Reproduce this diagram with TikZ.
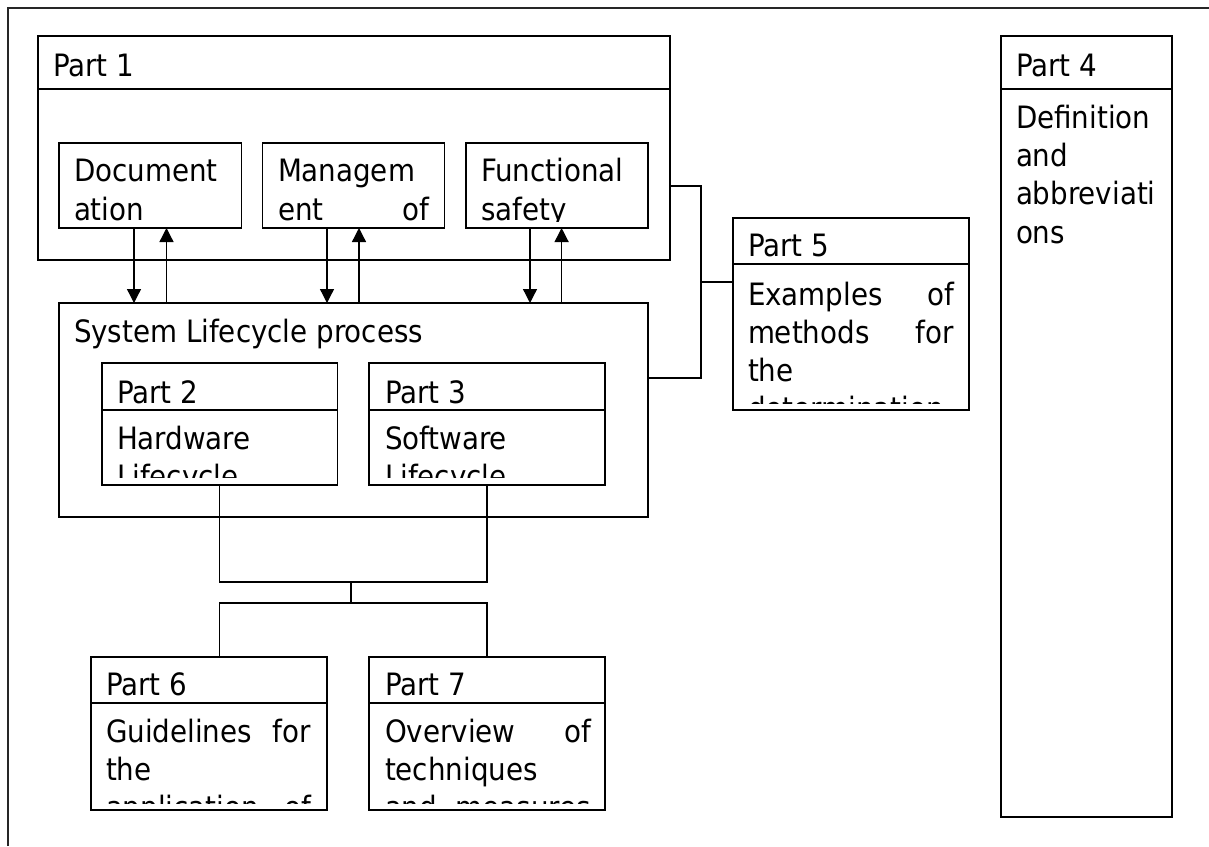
\documentclass[tikz,border=0pt]{standalone}
\usepackage{fontspec}
\setmainfont{DejaVu Sans Condensed}
\usetikzlibrary{arrows.meta}

\begin{document}
\begin{tikzpicture}[x=1pt,y=-1pt,
  frame/.style={draw=black, line width=1.9pt},
  panel/.style={frame, anchor=north west, inner sep=0pt, outer sep=0pt},
  link/.style={draw=black, line width=1.3pt},
  flow/.style={link, -{Triangle[width=14pt,length=14pt]}},
  txt/.style={inner sep=0pt, outer sep=0pt, anchor=base west,
              font=\fontsize{30.8}{38.5}\selectfont},
]
\useasboundingbox (0,0) rectangle (1209,846);

% page frame (top and left edges)
\coordinate (fr-bl) at (8,846);
\coordinate (fr-tl) at (8,8);
\coordinate (fr-tr) at (1209,8);
\draw[line width=1.6pt, draw=black!85] (fr-bl) -- (fr-tl) -- (fr-tr);

% ---------------- Part 1 ----------------
\node[panel, minimum width=632pt, minimum height=53pt]  (p1h) at (38,36) {};
\node[panel, minimum width=632pt, minimum height=171pt] (p1)  at (38,89) {};
\node[txt] (p1t) at (53,76) {Part 1};

\node[panel, minimum width=182.5pt, minimum height=85pt] (doc)   at (59,143) {};
\node[panel, minimum width=182pt,   minimum height=85pt] (mgmt)  at (262.5,143) {};
\node[panel, minimum width=182pt,   minimum height=85pt] (fsafe) at (466,143) {};

\begin{scope}
  \clip (doc.north west) rectangle ([yshift=7pt]doc.south east);
  \node[txt] (doc1) at (74,181) {Document};
  \node[txt] (doc2) at (74,220) {ation};
\end{scope}
\begin{scope}
  \clip (mgmt.north west) rectangle ([yshift=7pt]mgmt.south east);
  \node[txt] (mg1) at (278,181) {Managem};
  \node[txt] (mg2) at (278,220) {\hbox to 151pt{ent\hfill of}};
\end{scope}
\begin{scope}
  \clip (fsafe.north west) rectangle ([yshift=7pt]fsafe.south east);
  \node[txt] (fs1) at (481,181) {Functional};
  \node[txt] (fs2) at (481,220) {safety};
\end{scope}

% ---------------- System lifecycle ----------------
\node[panel, minimum width=589pt, minimum height=214pt] (sys) at (59,303) {};
\node[txt] (syst) at (74,342) {System Lifecycle process};

\node[panel, minimum width=235.5pt, minimum height=47pt] (p2h) at (102,363) {};
\node[panel, minimum width=235.5pt, minimum height=75pt] (p2)  at (102,410) {};
\node[txt] (p2t) at (117,403) {Part 2};
\node[panel, minimum width=236pt, minimum height=47pt] (p3h) at (369,363) {};
\node[panel, minimum width=236pt, minimum height=75pt] (p3)  at (369,410) {};
\node[txt] (p3t) at (385,403) {Part 3};
\begin{scope}
  \clip (p2.north west) rectangle ([yshift=8pt]p2.south east);
  \node[txt] (p2a) at (117,449) {Hardware};
  \node[txt] (p2b) at (117,487.5) {Lifecycle};
\end{scope}
\begin{scope}
  \clip (p3.north west) rectangle ([yshift=8pt]p3.south east);
  \node[txt] (p3a) at (385,449) {Software};
  \node[txt] (p3b) at (385,487.5) {Lifecycle};
\end{scope}

% ---------------- Part 5 ----------------
\node[panel, minimum width=236pt, minimum height=46pt]  (p5h) at (733,218) {};
\node[panel, minimum width=236pt, minimum height=146pt] (p5)  at (733,264) {};
\node[txt] (p5t) at (748,256) {Part 5};
\begin{scope}
  \clip (p5.north west) rectangle ([yshift=7pt]p5.south east);
  \node[txt] (p5a) at (748,305) {\hbox to 206pt{Examples\hfill of}};
  \node[txt] (p5b) at (748,343) {\hbox to 206pt{methods\hfill for}};
  \node[txt] (p5c) at (748,381) {the};
  \node[txt] (p5d) at (748,419.5) {determination};
\end{scope}

% ---------------- Part 4 ----------------
\node[panel, minimum width=171pt, minimum height=53pt]  (p4h) at (1001,36) {};
\node[panel, minimum width=171pt, minimum height=728pt] (p4)  at (1001,89) {};
\node[txt] (p4t) at (1016,76) {Part 4};
\node[txt] (p4a) at (1016,128) {Definition};
\node[txt] (p4b) at (1016,166) {and};
\node[txt] (p4c) at (1016,204) {abbreviati};
\node[txt] (p4d) at (1016,243) {ons};

% ---------------- Parts 6 and 7 ----------------
\node[panel, minimum width=236pt, minimum height=46pt]  (p6h) at (91,657) {};
\node[panel, minimum width=236pt, minimum height=107pt] (p6)  at (91,703) {};
\node[txt] (p6t) at (106,695) {Part 6};
\node[panel, minimum width=236pt, minimum height=46pt]  (p7h) at (369,657) {};
\node[panel, minimum width=236pt, minimum height=107pt] (p7)  at (369,703) {};
\node[txt] (p7t) at (385,695) {Part 7};
\begin{scope}
  \clip (p6.north west) rectangle ([yshift=7pt]p6.south east);
  \node[txt] (p6a) at (106,742) {\hbox to 205pt{Guidelines\hfill for}};
  \node[txt] (p6b) at (106,780) {the};
  \node[txt] (p6c) at (106,818.5) {\hbox to 205pt{application\hfill of}};
\end{scope}
\begin{scope}
  \clip (p7.north west) rectangle ([yshift=7pt]p7.south east);
  \node[txt] (p7a) at (385,742) {\hbox to 206pt{Overview\hfill of}};
  \node[txt] (p7b) at (385,780) {techniques};
  \node[txt] (p7c) at (385,818.5) {\hbox to 206pt{and\hfill measures}};
\end{scope}

% ---------------- connectors ----------------
% Part 1 boxes <-> system lifecycle
\draw[flow] ([xshift=-16.25pt]doc.south) -- ([xshift=-16.25pt]doc.south |- sys.north);
\draw[flow] ([xshift=16.25pt]doc.south |- sys.north) -- ([xshift=16.25pt]doc.south);
\draw[flow] ([xshift=-26.5pt]mgmt.south) -- ([xshift=-26.5pt]mgmt.south |- sys.north);
\draw[flow] ([xshift=5.5pt]mgmt.south |- sys.north) -- ([xshift=5.5pt]mgmt.south);
\draw[flow] ([xshift=-27pt]fsafe.south) -- ([xshift=-27pt]fsafe.south |- sys.north);
\draw[flow] ([xshift=4.6pt]fsafe.south |- sys.north) -- ([xshift=4.6pt]fsafe.south);

% Part 1 and system lifecycle -> Part 5
\coordinate (j5top) at (701,186);
\coordinate (j5mid) at (701,282);
\coordinate (j5bot) at (701,378);
\draw[link] (p1.east |- j5top) -- (j5top) -- (j5bot) -- (sys.east |- j5bot);
\draw[link] (j5mid) -- (p5.west |- j5mid);

% Parts 2 and 3 -> Parts 6 and 7
\coordinate (jtop) at (351,582);
\coordinate (jbot) at (351,603);
\draw[link] (p2.south) -- (p2.south |- jtop) -- (p3.south |- jtop) -- (p3.south);
\draw[link] (jtop) -- (jbot);
\draw[link] (p2.south |- p6h.north) -- (p2.south |- jbot) -- (p3.south |- jbot) -- (p3.south |- p7h.north);

\end{tikzpicture}
\end{document}
